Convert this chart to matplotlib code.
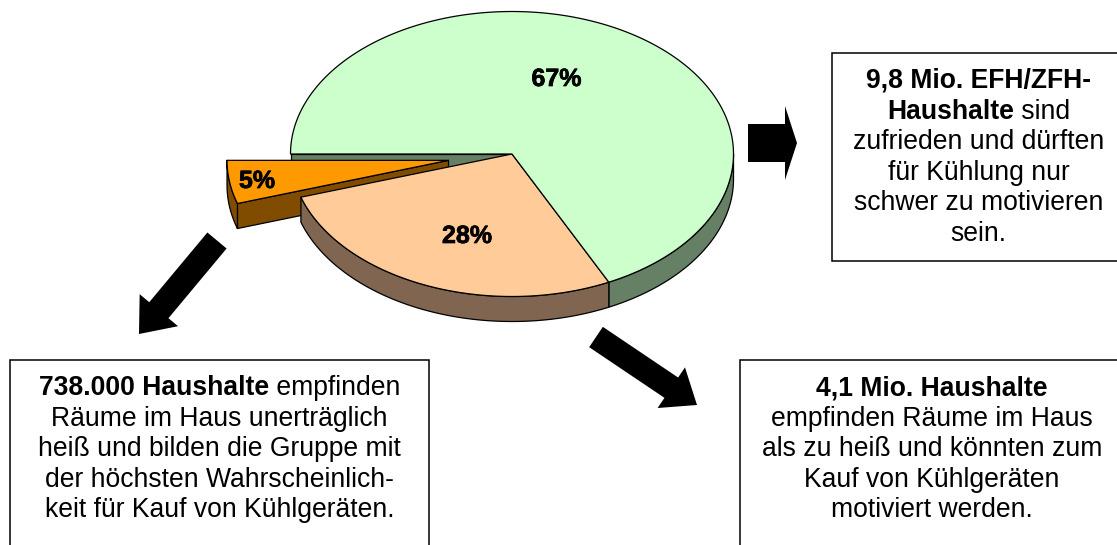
import numpy as np
import matplotlib
matplotlib.use('Agg')
import matplotlib.pyplot as plt
import matplotlib.patheffects as pe
from matplotlib.patches import Polygon, Rectangle, FancyArrow

plt.rcParams['font.family'] = ['Liberation Sans', 'DejaVu Sans']

# slices as drawn, clockwise from the left of the pie (printed labels are rounded differently)
shares = [67.8, 27.3, 4.9]
share_labels = ['67%', '28%', '5%']
top_colors = ['#CCFFCC', '#FFCC99', '#FF9900']
side_colors = ['#668066', '#806650', '#804D00']

box_left = [
    [('738.000 Haushalte', True), (' empfinden', False)],
    [('Räume im Haus unerträglich', False)],
    [('heiß und bilden die Gruppe mit', False)],
    [('der höchsten Wahrscheinlich-', False)],
    [('keit für Kauf von Kühlgeräten.', False)],
]
box_mid = [
    [('4,1 Mio. Haushalte', True)],
    [('empfinden Räume im Haus', False)],
    [('als zu heiß und könnten zum', False)],
    [('Kauf von Kühlgeräten', False)],
    [('motiviert werden.', False)],
]
box_right = [
    [('9,8 Mio. EFH/ZFH-', True)],
    [('Haushalte', True), (' sind', False)],
    [('zufrieden und dürften', False)],
    [('für Kühlung nur', False)],
    [('schwer zu motivieren', False)],
    [('sein.', False)],
]

W, H = 1117, 545
cx, cy, rx, ry, depth = 512, 154, 221.5, 142.5, 25
explode = 0.29
text_size = 19.1
line_gap = 30.6

fig = plt.figure(figsize=(W / 100, H / 100), dpi=100)
ax = fig.add_axes([0, 0, 1, 1])
ax.set_xlim(0, W)
ax.set_ylim(H, 0)
ax.axis('off')


def arc(t0, t1, ox=0, oy=0):
    t = np.radians(np.linspace(t0, t1, 200))
    return np.column_stack([cx + ox + rx * np.cos(t), cy + oy - ry * np.sin(t)])


def poly(pts, color, z):
    ax.add_patch(Polygon(pts, closed=True, facecolor=color, edgecolor='black',
                         linewidth=0.9, joinstyle='round', zorder=z))


def draw_lines(lines, xc, y0):
    renderer = fig.canvas.get_renderer()
    for n, runs in enumerate(lines):
        widths = []
        for s, bold in runs:
            w = 'bold' if bold else 'normal'
            a = ax.text(0, 0, 'x' + s + 'x', fontsize=text_size, fontweight=w)
            b = ax.text(0, 0, 'xx', fontsize=text_size, fontweight=w)
            widths.append(a.get_window_extent(renderer).width - b.get_window_extent(renderer).width)
            a.remove()
            b.remove()
        x = xc - sum(widths) / 2
        for (s, bold), wd in zip(runs, widths):
            ax.text(x, y0 + n * line_gap, s, fontsize=text_size, va='baseline', ha='left',
                    fontweight='bold' if bold else 'normal', color='black', zorder=10)
            x += wd


# slice angles, 180 is the left of the pie and going clockwise means decreasing
edges = 180 - np.cumsum([0] + shares) * 3.6
g0, g1 = edges[0], edges[1]
p0, p1 = edges[1], edges[2]
o0, o1 = edges[2], edges[3]
mid = np.radians((o0 + o1) / 2)
ox = explode * rx * np.cos(mid)
oy = -explode * ry * np.sin(mid)
centre = np.array([[cx, cy]])
down = np.array([[0, depth]])
o_centre = centre + [[ox, oy]]

# green cut face and outer wall
left_pt = arc(180, 180)[:1]
poly(np.vstack([left_pt, centre, centre + down, left_pt + down]), side_colors[0], 1)
wall = arc(0, g1)
poly(np.vstack([wall, wall[::-1] + down]), side_colors[0], 1)

# orange slice pulled out
o_arc = arc(o0, o1, ox, oy)
corner = o_arc[:1]
poly(np.vstack([o_centre, corner, corner + down, o_centre + down]), side_colors[2], 2)
poly(np.vstack([o_arc, o_arc[::-1] + down]), side_colors[2], 2)
poly(np.vstack([o_centre, o_arc]), top_colors[2], 3)

# peach wall and top
p_arc = arc(p0, p1)
poly(np.vstack([p_arc, p_arc[::-1] + down]), side_colors[1], 4)
poly(np.vstack([centre, p_arc]), top_colors[1], 5)

# green top
poly(np.vstack([centre, arc(g0, g1)]), top_colors[0], 6)

# slice labels
label_kw = dict(fontsize=18, fontweight='bold', ha='center', va='baseline', zorder=10,
                path_effects=[pe.withStroke(linewidth=0.5, foreground='black')])
ax.text(556.5, 86, share_labels[0], **label_kw)
ax.text(467, 243, share_labels[1], **label_kw)
ax.text(257, 188, share_labels[2], **label_kw)

# arrows
arrow_kw = dict(length_includes_head=True, facecolor='black', edgecolor='none', zorder=7)
ax.add_patch(FancyArrow(748, 143, 49, 0, width=38, head_width=74, head_length=12, **arrow_kw))
ax.add_patch(FancyArrow(596, 337, 101, 68, width=24.5, head_width=49, head_length=31, **arrow_kw))
ax.add_patch(FancyArrow(217, 240.5, -78, 93.5, width=25, head_width=50, head_length=31, **arrow_kw))

# text boxes, they run off the picture
box_kw = dict(facecolor='white', edgecolor='black', linewidth=1.1, zorder=8)
ax.add_patch(Rectangle((10, 360), 419, 220, **box_kw))
ax.add_patch(Rectangle((740, 360), 420, 220, **box_kw))
ax.add_patch(Rectangle((832, 53), 320, 208, **box_kw))

draw_lines(box_left, 219.5, 395)
draw_lines(box_mid, 931.7, 395)
draw_lines(box_right, 978.7, 88)

fig.savefig('out.png', dpi=100)
